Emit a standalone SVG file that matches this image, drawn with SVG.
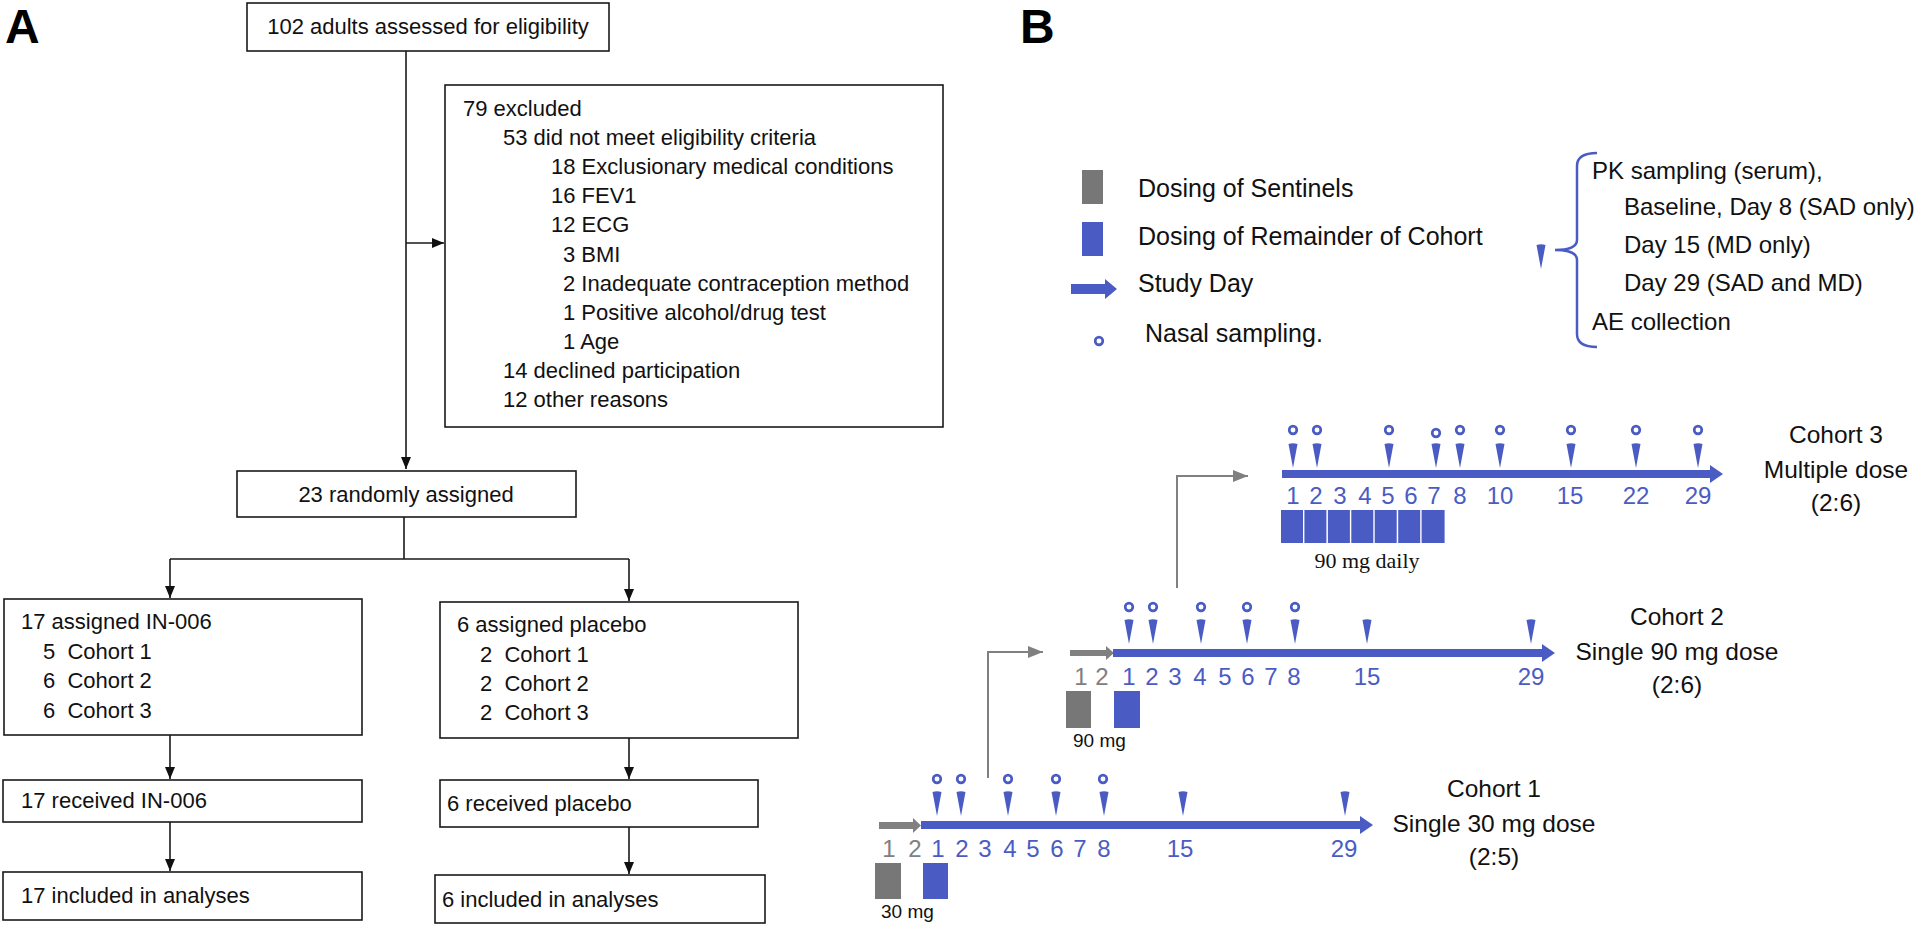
<svg xmlns="http://www.w3.org/2000/svg" xmlns:xlink="http://www.w3.org/1999/xlink" width="1920" height="928" viewBox="0 0 1920 928">
<style>
text{font-family:"Liberation Sans",Arial,sans-serif}
.pl{font-size:48px;font-weight:bold;fill:#000}
.ta{font-size:22px;fill:#111}
.bx{fill:#fff;stroke:#1a1a1a;stroke-width:1.6}
.cn{fill:none;stroke:#1a1a1a;stroke-width:1.6}
.cg{fill:none;stroke:#808080;stroke-width:2}
.lg{font-size:25px;fill:#111}
.bk{font-size:24px;fill:#111}
.co{font-size:24.5px;fill:#111;text-anchor:middle}
.dl{font-size:24px;fill:#4a5cc4;text-anchor:middle}
.dg{font-size:24px;fill:#808080;text-anchor:middle}
.mg{font-size:19px;fill:#111}
.blue{fill:#4a5cc4}
.gray{fill:#777}
.circ{fill:#fff;stroke:#4a5cc4;stroke-width:2.7}
</style>
<defs>
<marker id="ah" markerUnits="userSpaceOnUse" markerWidth="12" markerHeight="10" refX="12" refY="5" orient="auto"><path d="M0,0 L12,5 L0,10 Z" fill="#111"/></marker>
<marker id="ag" markerUnits="userSpaceOnUse" markerWidth="15" markerHeight="12" refX="15" refY="6" orient="auto"><path d="M0,0 L15,6 L0,12 Z" fill="#808080"/></marker>
<path id="tri" d="M-4.5,0 Q0,-1.5 4.5,0 L0,24 Z" fill="#4a5cc4"/>
<circle id="dot" r="3.8" class="circ"/>
</defs>
<rect width="1920" height="928" fill="#fff"/>

<!-- Panel A -->
<text class="pl" x="5" y="43">A</text>
<g id="connectorsA">
<line class="cn" x1="406" y1="51" x2="406" y2="469" marker-end="url(#ah)" stroke="#555"/>
<line class="cn" x1="406" y1="243" x2="444" y2="243" marker-end="url(#ah)"/>
<polyline class="cn" points="404,517 404,559"/>
<polyline class="cn" points="170,559 629,559"/>
<line class="cn" x1="170" y1="559" x2="170" y2="598" marker-end="url(#ah)"/>
<line class="cn" x1="629" y1="559" x2="629" y2="601" marker-end="url(#ah)"/>
<line class="cn" x1="170" y1="735" x2="170" y2="779" marker-end="url(#ah)"/>
<line class="cn" x1="629" y1="738" x2="629" y2="779" marker-end="url(#ah)"/>
<line class="cn" x1="170" y1="822" x2="170" y2="871" marker-end="url(#ah)"/>
<line class="cn" x1="629" y1="827" x2="629" y2="874" marker-end="url(#ah)"/>
</g>
<g id="n-assessed"><rect class="bx" x="247" y="3" width="362" height="48"/><text class="ta" x="428" y="34" text-anchor="middle">102 adults assessed for eligibility</text></g>
<g id="n-excluded"><rect class="bx" x="445" y="85" width="498" height="342"/>
<text class="ta" x="463" y="116">79 excluded</text>
<text class="ta" x="503" y="145">53 did not meet eligibility criteria</text>
<text class="ta" x="551" y="174">18 Exclusionary medical conditions</text>
<text class="ta" x="551" y="203">16 FEV1</text>
<text class="ta" x="551" y="232">12 ECG</text>
<text class="ta" x="563" y="262">3 BMI</text>
<text class="ta" x="563" y="291">2 Inadequate contraception method</text>
<text class="ta" x="563" y="320">1 Positive alcohol/drug test</text>
<text class="ta" x="563" y="349">1 Age</text>
<text class="ta" x="503" y="378">14 declined participation</text>
<text class="ta" x="503" y="407">12 other reasons</text></g>
<g id="n-random"><rect class="bx" x="237" y="471" width="339" height="46"/><text class="ta" x="406" y="502" text-anchor="middle">23 randomly assigned</text></g>
<g id="n-in006"><rect class="bx" x="4" y="599" width="358" height="136"/>
<text class="ta" x="21" y="629">17 assigned IN-006</text>
<text class="ta" x="43" y="659" xml:space="preserve">5  Cohort 1</text>
<text class="ta" x="43" y="688" xml:space="preserve">6  Cohort 2</text>
<text class="ta" x="43" y="718" xml:space="preserve">6  Cohort 3</text></g>
<g id="n-placebo"><rect class="bx" x="440" y="602" width="358" height="136"/>
<text class="ta" x="457" y="632">6 assigned placebo</text>
<text class="ta" x="480" y="662" xml:space="preserve">2  Cohort 1</text>
<text class="ta" x="480" y="691" xml:space="preserve">2  Cohort 2</text>
<text class="ta" x="480" y="720" xml:space="preserve">2  Cohort 3</text></g>
<g id="n-rec-in"><rect class="bx" x="3" y="780" width="359" height="42"/><text class="ta" x="21" y="808">17 received IN-006</text></g>
<g id="n-inc-in"><rect class="bx" x="3" y="872" width="359" height="48"/><text class="ta" x="21" y="903">17 included in analyses</text></g>
<g id="n-rec-pl"><rect class="bx" x="440" y="780" width="318" height="47"/><text class="ta" x="447" y="811">6 received placebo</text></g>
<g id="n-inc-pl"><rect class="bx" x="435" y="875" width="330" height="48"/><text class="ta" x="442" y="907">6 included in analyses</text></g>

<!-- Panel B -->
<text class="pl" x="1020" y="43">B</text>
<g id="legend">
<rect class="gray" x="1082" y="170" width="21" height="34"/>
<rect class="blue" x="1082" y="222" width="21" height="34"/>
<polygon class="blue" points="1071,284 1105,284 1105,279 1117,289 1105,299 1105,294 1071,294"/>
<use xlink:href="#dot" x="1099" y="341"/>
<text class="lg" x="1138" y="197">Dosing of Sentinels</text>
<text class="lg" x="1138" y="245">Dosing of Remainder of Cohort</text>
<text class="lg" x="1138" y="292">Study Day</text>
<text class="lg" x="1145" y="342">Nasal sampling.</text>
</g>
<g id="legend-bracket">
<use xlink:href="#tri" x="1541" y="245"/>
<path d="M1597,153 Q1577,153 1577,166 L1577,240 Q1577,250 1555,250 Q1577,250 1577,260 L1577,334 Q1577,347 1597,347" fill="none" stroke="#4a5cc4" stroke-width="2.5"/>
<text class="bk" x="1592" y="179">PK sampling (serum),</text>
<text class="bk" x="1624" y="215">Baseline, Day 8 (SAD only)</text>
<text class="bk" x="1624" y="253">Day 15 (MD only)</text>
<text class="bk" x="1624" y="291">Day 29 (SAD and MD)</text>
<text class="bk" x="1592" y="330">AE collection</text>
</g>

<g id="connectorsB">
<polyline class="cg" points="988,778 988,652 1043,652" marker-end="url(#ag)"/>
<polyline class="cg" points="1177,588 1177,476 1248,476" marker-end="url(#ag)"/>
</g>

<g id="cohort3">
<rect class="blue" x="1282" y="470" width="430" height="8"/>
<polygon class="blue" points="1710,465 1723,474 1710,483"/>
<use xlink:href="#dot" x="1293" y="430"/><use xlink:href="#dot" x="1317" y="430"/><use xlink:href="#dot" x="1389" y="430"/><use xlink:href="#dot" x="1436" y="433"/><use xlink:href="#dot" x="1460" y="430"/><use xlink:href="#dot" x="1500" y="430"/><use xlink:href="#dot" x="1571" y="430"/><use xlink:href="#dot" x="1636" y="430"/><use xlink:href="#dot" x="1698" y="430"/>
<use xlink:href="#tri" x="1293" y="444"/><use xlink:href="#tri" x="1317" y="444"/><use xlink:href="#tri" x="1389" y="444"/><use xlink:href="#tri" x="1436" y="444"/><use xlink:href="#tri" x="1460" y="444"/><use xlink:href="#tri" x="1500" y="444"/><use xlink:href="#tri" x="1571" y="444"/><use xlink:href="#tri" x="1636" y="444"/><use xlink:href="#tri" x="1698" y="444"/>
<text class="dl" x="1293" y="504">1</text><text class="dl" x="1316" y="504">2</text><text class="dl" x="1340" y="504">3</text><text class="dl" x="1365" y="504">4</text><text class="dl" x="1388" y="504">5</text><text class="dl" x="1411" y="504">6</text><text class="dl" x="1434" y="504">7</text><text class="dl" x="1460" y="504">8</text><text class="dl" x="1500" y="504">10</text><text class="dl" x="1570" y="504">15</text><text class="dl" x="1636" y="504">22</text><text class="dl" x="1698" y="504">29</text>
<rect class="blue" x="1281" y="510" width="22" height="33"/><rect class="blue" x="1304.4" y="510" width="22" height="33"/><rect class="blue" x="1327.9" y="510" width="22" height="33"/><rect class="blue" x="1351.3" y="510" width="22" height="33"/><rect class="blue" x="1374.7" y="510" width="22" height="33"/><rect class="blue" x="1398.2" y="510" width="22" height="33"/><rect class="blue" x="1421.6" y="510" width="23" height="33"/>
<text x="1367" y="568" text-anchor="middle" style="font-family:'Liberation Serif','Times New Roman',serif;font-size:22px;fill:#111">90 mg daily</text>
<text class="co" x="1836" y="443">Cohort 3</text>
<text class="co" x="1836" y="478">Multiple dose</text>
<text class="co" x="1836" y="511">(2:6)</text>
</g>

<g id="cohort2">
<rect x="1070" y="650" width="38" height="6" fill="#808080"/>
<polygon points="1106,646 1114,653 1106,660" fill="#808080"/>
<rect class="blue" x="1113" y="649" width="430" height="8"/>
<polygon class="blue" points="1542,644 1555,653 1542,662"/>
<use xlink:href="#dot" x="1129" y="607"/><use xlink:href="#dot" x="1153" y="607"/><use xlink:href="#dot" x="1201" y="607"/><use xlink:href="#dot" x="1247" y="607"/><use xlink:href="#dot" x="1295" y="607"/>
<use xlink:href="#tri" x="1129" y="620"/><use xlink:href="#tri" x="1153" y="620"/><use xlink:href="#tri" x="1201" y="620"/><use xlink:href="#tri" x="1247" y="620"/><use xlink:href="#tri" x="1295" y="620"/><use xlink:href="#tri" x="1367" y="620"/><use xlink:href="#tri" x="1531" y="620"/>
<text class="dg" x="1081" y="685">1</text><text class="dg" x="1102" y="685">2</text>
<text class="dl" x="1129" y="685">1</text><text class="dl" x="1152" y="685">2</text><text class="dl" x="1175" y="685">3</text><text class="dl" x="1200" y="685">4</text><text class="dl" x="1225" y="685">5</text><text class="dl" x="1248" y="685">6</text><text class="dl" x="1271" y="685">7</text><text class="dl" x="1294" y="685">8</text><text class="dl" x="1367" y="685">15</text><text class="dl" x="1531" y="685">29</text>
<rect class="gray" x="1066" y="691" width="25" height="37"/>
<rect class="blue" x="1114" y="691" width="26" height="37"/>
<text class="mg" x="1073" y="747">90 mg</text>
<text class="co" x="1677" y="625">Cohort 2</text>
<text class="co" x="1677" y="660">Single 90 mg dose</text>
<text class="co" x="1677" y="693">(2:6)</text>
</g>

<g id="cohort1">
<rect x="879" y="822" width="36" height="7" fill="#808080"/>
<polygon points="913,818 921,825.5 913,833" fill="#808080"/>
<rect class="blue" x="921" y="821" width="440" height="8"/>
<polygon class="blue" points="1360,816 1373,825 1360,834"/>
<use xlink:href="#dot" x="937" y="779"/><use xlink:href="#dot" x="961" y="779"/><use xlink:href="#dot" x="1008" y="779"/><use xlink:href="#dot" x="1056" y="779"/><use xlink:href="#dot" x="1103" y="779"/>
<use xlink:href="#tri" x="937" y="792"/><use xlink:href="#tri" x="961" y="792"/><use xlink:href="#tri" x="1008" y="792"/><use xlink:href="#tri" x="1056" y="792"/><use xlink:href="#tri" x="1104" y="792"/><use xlink:href="#tri" x="1183" y="792"/><use xlink:href="#tri" x="1345" y="792"/>
<text class="dg" x="889" y="857">1</text><text class="dg" x="915" y="857">2</text>
<text class="dl" x="938" y="857">1</text><text class="dl" x="962" y="857">2</text><text class="dl" x="985" y="857">3</text><text class="dl" x="1010" y="857">4</text><text class="dl" x="1033" y="857">5</text><text class="dl" x="1057" y="857">6</text><text class="dl" x="1080" y="857">7</text><text class="dl" x="1104" y="857">8</text><text class="dl" x="1180" y="857">15</text><text class="dl" x="1344" y="857">29</text>
<rect class="gray" x="875" y="863" width="26" height="36"/>
<rect class="blue" x="923" y="863" width="25" height="36"/>
<text class="mg" x="881" y="918">30 mg</text>
<text class="co" x="1494" y="797">Cohort 1</text>
<text class="co" x="1494" y="832">Single 30 mg dose</text>
<text class="co" x="1494" y="865">(2:5)</text>
</g>
</svg>
